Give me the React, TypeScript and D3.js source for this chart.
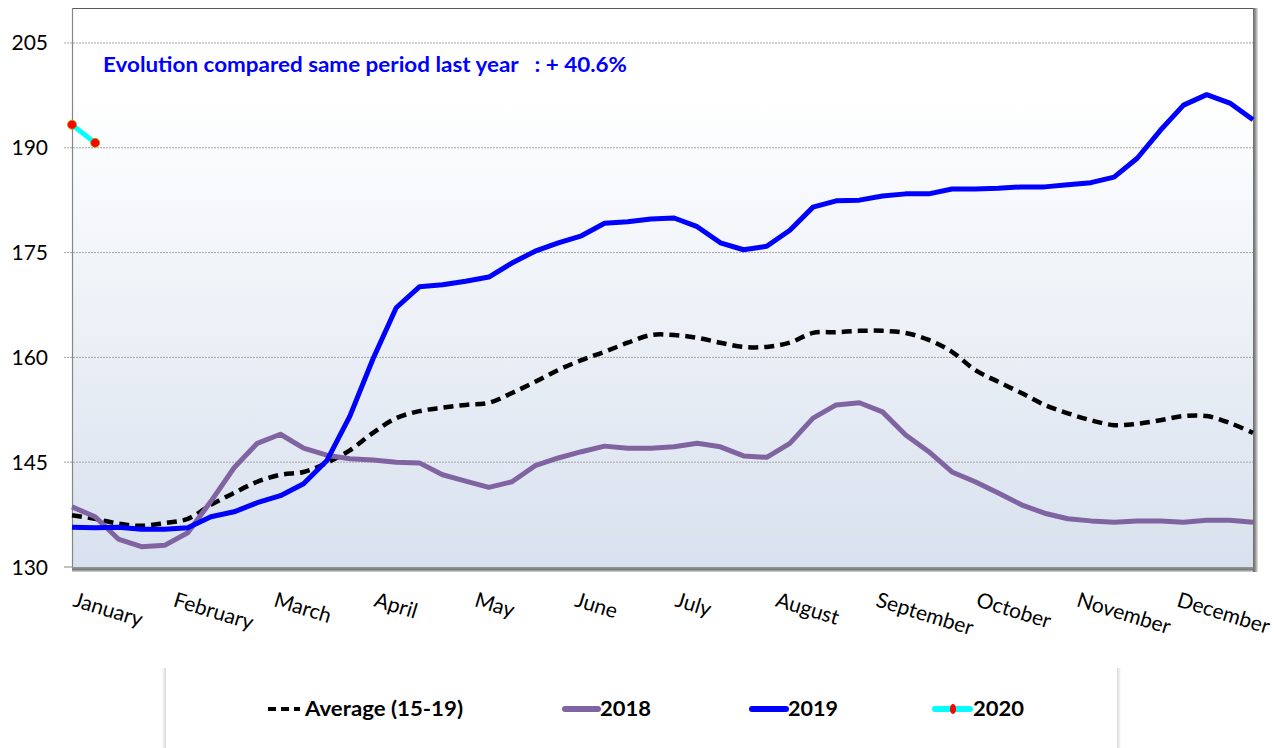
import React from 'react';
import * as d3 from 'd3';

// weekly index prices, 52 weeks
const avg1519 = [
  137.4, 136.9, 136.2, 135.9, 136.3, 136.9, 138.9, 140.6, 142.2, 143.2, 143.6, 144.9, 146.7,
  149.2, 151.3, 152.3, 152.8, 153.2, 153.5, 154.9, 156.5, 158.2, 159.6, 160.8, 162.1, 163.2,
  163.2, 162.8, 162.1, 161.5, 161.5, 162.1, 163.5, 163.6, 163.8, 163.8, 163.5, 162.5, 160.8,
  158.2, 156.5, 154.9, 153.2, 152.0, 151.0, 150.3, 150.5, 151.0, 151.6, 151.6, 150.6, 149.2,
];
const s2018 = [
  138.6, 137.2, 134.0, 132.9, 133.1, 134.9, 139.4, 144.2, 147.7, 149.0, 147.0, 146.0, 145.5,
  145.3, 145.0, 144.9, 143.2, 142.3, 141.4, 142.2, 144.5, 145.6, 146.5, 147.3, 147.0, 147.0,
  147.2, 147.7, 147.2, 145.9, 145.7, 147.7, 151.3, 153.2, 153.5, 152.2, 148.9, 146.5, 143.6,
  142.2, 140.6, 138.9, 137.7, 136.9, 136.6, 136.4, 136.6, 136.6, 136.4, 136.7, 136.7, 136.4,
];
const s2019 = [
  135.7, 135.6, 135.7, 135.4, 135.4, 135.6, 137.2, 137.9, 139.2, 140.2, 141.9, 145.2, 151.6,
  159.8, 167.1, 170.1, 170.4, 170.9, 171.5, 173.5, 175.2, 176.4, 177.4, 179.2, 179.4, 179.8,
  179.95, 178.7, 176.4, 175.4, 175.9, 178.2, 181.5, 182.4, 182.5, 183.1, 183.4, 183.4, 184.1,
  184.1, 184.2, 184.4, 184.4, 184.7, 185.0, 185.8, 188.5, 192.5, 196.1, 197.6, 196.4, 194.0,
];
const s2020 = [193.3, 190.7];

const months = [
  'January', 'February', 'March', 'April', 'May', 'June',
  'July', 'August', 'September', 'October', 'November', 'December',
];
const yTicks = [130, 145, 160, 175, 190, 205];

const W = 1280;
const H = 748;
const left = 72;
const right = 1253;
const top = 8;
const bottom = 567;

export default function App() {
  const x = d3.scaleLinear().domain([0, 51]).range([left, right]);
  const y = d3.scaleLinear().domain([130, 210]).range([bottom, top]);

  const straight = d3
    .line<number>()
    .x((d, i) => x(i))
    .y((d) => y(d));
  const smooth = d3
    .line<number>()
    .x((d, i) => x(i))
    .y((d) => y(d))
    .curve(d3.curveCatmullRom.alpha(0.5));

  const font = 'Lato, "Open Sans", sans-serif';

  return (
    <svg
      width={W}
      height={H}
      style={{ position: 'absolute', left: 0, top: 0, background: '#fff' }}
      fontFamily={font}
    >
      <defs>
        <linearGradient id="plotBg" x1="0" y1="0" x2="0" y2="1">
          <stop offset="0" stopColor="#ffffff" />
          <stop offset="0.16" stopColor="#ffffff" />
          <stop offset="1" stopColor="#d8e1ee" />
        </linearGradient>
        <linearGradient id="shadowB" x1="0" y1="0" x2="0" y2="1">
          <stop offset="0" stopColor="#9a9a9a" />
          <stop offset="0.5" stopColor="#7d7d7d" />
          <stop offset="1" stopColor="#d8d8d8" />
        </linearGradient>
        <linearGradient id="shadowR" x1="0" y1="0" x2="1" y2="0">
          <stop offset="0" stopColor="#6a6a6a" />
          <stop offset="0.4" stopColor="#8a8a8a" />
          <stop offset="1" stopColor="#e6e6e6" />
        </linearGradient>
        <linearGradient id="legEdgeL" x1="0" y1="0" x2="1" y2="0">
          <stop offset="0" stopColor="#ffffff" />
          <stop offset="1" stopColor="#d6d6d6" />
        </linearGradient>
        <linearGradient id="legEdgeR" x1="0" y1="0" x2="1" y2="0">
          <stop offset="0" stopColor="#d6d6d6" />
          <stop offset="1" stopColor="#ffffff" />
        </linearGradient>
      </defs>

      {/* plot area */}
      <rect x={left} y={top} width={right - left} height={bottom - top} fill="url(#plotBg)" />

      {/* grid */}
      {yTicks
        .filter((t) => t > 130)
        .map((t) => (
          <line
            key={t}
            x1={left - 8}
            x2={right}
            y1={y(t)}
            y2={y(t)}
            stroke="#a6a6a6"
            strokeWidth={1}
            strokeDasharray="2,1"
          />
        ))}
      <line x1={left - 8} x2={left} y1={bottom} y2={bottom} stroke="#868686" />

      {/* frame and shadows */}
      <rect x={left} y={bottom} width={right - left + 5} height={5} fill="url(#shadowB)" />
      <rect x={right} y={top} width={5} height={bottom - top + 5} fill="url(#shadowR)" />
      <line x1={left} x2={right} y1={top + 0.5} y2={top + 0.5} stroke="#5a5a5a" strokeWidth={1} />
      <line x1={left + 0.5} x2={left + 0.5} y1={top} y2={bottom} stroke="#868686" strokeWidth={1.2} />

      {/* y labels */}
      {yTicks.map((t) => (
        <text key={t} x={48} y={y(t) + 7.5} textAnchor="end" fontSize={21} fill="#000">
          {t}
        </text>
      ))}

      {/* month labels */}
      {months.map((m, i) => {
        const mx = x((i * 52) / 12);
        const my = 606;
        return (
          <text
            key={m}
            x={mx}
            y={my}
            fontSize={21}
            fill="#000"
            transform={`rotate(17 ${mx} ${my})`}
          >
            {m}
          </text>
        );
      })}

      {/* series */}
      <path d={smooth(avg1519) || ''} fill="none" stroke="#000" strokeWidth={4.5} strokeDasharray="10,6" />
      <path d={straight(s2018) || ''} fill="none" stroke="#8064a2" strokeWidth={5} strokeLinejoin="round" />
      <path d={straight(s2019) || ''} fill="none" stroke="#0000ff" strokeWidth={5} strokeLinejoin="round" />
      <path d={straight(s2020) || ''} fill="none" stroke="#00ffff" strokeWidth={5} />
      {s2020.map((v, i) => (
        <circle key={i} cx={x(i)} cy={y(v)} r={4.5} fill="#ff0000" stroke="#a5a500" strokeWidth={0.8} />
      ))}

      {/* annotation */}
      <text
        x={103}
        y={72}
        fontSize={20}
        fontWeight="bold"
        fill="#0000ff"
        textLength={524}
        lengthAdjust="spacingAndGlyphs"
        style={{ whiteSpace: 'pre' }}
      >
        {'Evolution compared same period last year   : + 40.6%'}
      </text>

      {/* legend */}
      <rect x={165} y={668} width={955} height={90} fill="#fff" />
      <rect x={162} y={668} width={4} height={90} fill="url(#legEdgeL)" />
      <rect x={1117} y={668} width={4} height={90} fill="url(#legEdgeR)" />
      <g fontSize={21} fontWeight="bold" fill="#000">
        <line x1={268} x2={300} y1={709} y2={709} stroke="#000" strokeWidth={4} strokeDasharray="8,5" />
        <text x={305} y={716} textLength={158} lengthAdjust="spacingAndGlyphs">Average (15-19)</text>
        <line x1={565} x2={598} y1={709} y2={709} stroke="#8064a2" strokeWidth={6} strokeLinecap="round" />
        <text x={600} y={716} textLength={51} lengthAdjust="spacingAndGlyphs">2018</text>
        <line x1={752} x2={786} y1={709} y2={709} stroke="#0000ff" strokeWidth={6} strokeLinecap="round" />
        <text x={788} y={716} textLength={50} lengthAdjust="spacingAndGlyphs">2019</text>
        <line x1={935} x2={970} y1={709} y2={709} stroke="#00ffff" strokeWidth={6} strokeLinecap="round" />
        <ellipse cx={953} cy={709} rx={3} ry={5} fill="#ff0000" />
        <text x={973} y={716} textLength={51} lengthAdjust="spacingAndGlyphs">2020</text>
      </g>
    </svg>
  );
}
